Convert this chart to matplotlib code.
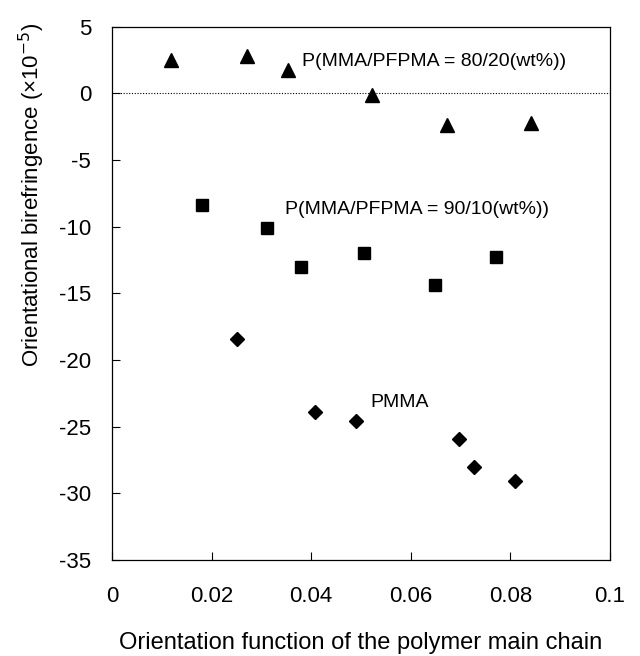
import matplotlib
matplotlib.use('Agg')
import matplotlib.pyplot as plt

plt.rcParams['font.family'] = ['Liberation Sans', 'DejaVu Sans']
plt.rcParams['axes.unicode_minus'] = False

# ── Data ────────────────────────────────────────────────────────────
x_8020 = [0.0118, 0.0272, 0.0353, 0.0523, 0.0672, 0.0841]
y_8020 = [2.5, 2.8, 1.75, -0.13, -2.4, -2.2]

x_9010 = [0.0180, 0.0311, 0.0380, 0.0507, 0.0649, 0.0771]
y_9010 = [-8.4, -10.1, -13.0, -12.0, -14.4, -12.3]

x_pmma = [0.0252, 0.0408, 0.0490, 0.0697, 0.0728, 0.0809]
y_pmma = [-18.4, -23.9, -24.6, -25.9, -28.0, -29.1]

x_ticks = [0, 0.02, 0.04, 0.06, 0.08, 0.1]
x_ticklabels = ['0', '0.02', '0.04', '0.06', '0.08', '0.1']
y_ticks = list(range(-35, 6, 5))

# ── Plot ────────────────────────────────────────────────────────────
fig = plt.figure(figsize=(6.4, 6.56), dpi=100)
ax = fig.add_axes([0.175, 0.1463, 0.778, 0.8132])

ax.axhline(0, color='black', lw=0.8, ls=(0, (1, 1.5)), zorder=1)
ax.plot(x_8020, y_8020, ls='none', marker='^', ms=10.5, color='black', zorder=3)
ax.plot(x_9010, y_9010, ls='none', marker='s', ms=9, color='black', zorder=3)
ax.plot(x_pmma, y_pmma, ls='none', marker='D', ms=7.5, color='black', zorder=3)

ax.text(0.0381, 2.4, 'P(MMA/PFPMA = 80/20(wt%))', fontsize=14, va='center', ha='left')
ax.text(0.0347, -8.75, 'P(MMA/PFPMA = 90/10(wt%))', fontsize=14, va='center', ha='left')
ax.text(0.0518, -23.2, 'PMMA', fontsize=14, va='center', ha='left')

ax.set_xlim(0, 0.1)
ax.set_ylim(-35, 5)
ax.set_xticks(x_ticks)
ax.set_xticklabels(x_ticklabels)
ax.set_yticks(y_ticks)
ax.tick_params(direction='in', length=6, width=0.8, labelsize=16, colors='black')
ax.tick_params(axis='x', pad=19)
ax.tick_params(axis='y', pad=15)
for s in ax.spines.values():
    s.set_linewidth(0.9)

ax.set_xlabel('Orientation function of the polymer main chain', fontsize=17, labelpad=18)
ax.set_ylabel('Orientational birefringence (×10$^{-5}$)', fontsize=16)
ax.yaxis.set_label_coords(-0.13, 0.685)

fig.savefig('out.png', dpi=100)
